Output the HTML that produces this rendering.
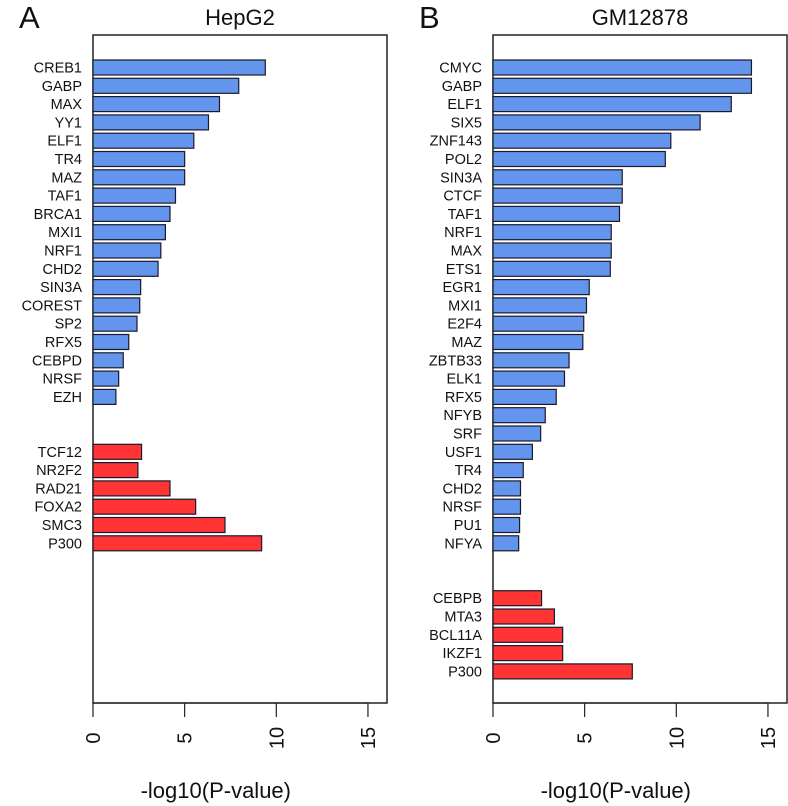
<!DOCTYPE html>
<html><head><meta charset="utf-8"><style>
body{margin:0;background:#fff}
svg{display:block;font-family:"Liberation Sans",Arial,sans-serif}
</style></head><body>
<svg id="chart" width="788" height="806"></svg>
<script>
const hepBlueNames=["CREB1","GABP","MAX","YY1","ELF1","TR4","MAZ","TAF1","BRCA1","MXI1","NRF1","CHD2","SIN3A","COREST","SP2","RFX5","CEBPD","NRSF","EZH"];
const hepBlueVals=[9.4,7.95,6.9,6.3,5.5,5.0,5.0,4.5,4.2,3.95,3.7,3.55,2.6,2.55,2.4,1.95,1.65,1.4,1.25];
const hepRedNames=["TCF12","NR2F2","RAD21","FOXA2","SMC3","P300"];
const hepRedVals=[2.65,2.45,4.2,5.6,7.2,9.2];
const gmBlueNames=["CMYC","GABP","ELF1","SIX5","ZNF143","POL2","SIN3A","CTCF","TAF1","NRF1","MAX","ETS1","EGR1","MXI1","E2F4","MAZ","ZBTB33","ELK1","RFX5","NFYB","SRF","USF1","TR4","CHD2","NRSF","PU1","NFYA"];
const gmBlueVals=[14.1,14.1,13.0,11.3,9.7,9.4,7.05,7.05,6.9,6.45,6.45,6.4,5.25,5.1,4.95,4.9,4.15,3.9,3.45,2.85,2.6,2.15,1.65,1.5,1.5,1.45,1.4];
const gmRedNames=["CEBPB","MTA3","BCL11A","IKZF1","P300"];
const gmRedVals=[2.65,3.35,3.8,3.8,7.6];
const ticks=[0,5,10,15];

const NS="http://www.w3.org/2000/svg";
const svg=document.getElementById('chart');
function mk(tag,attrs,parent){const e=document.createElementNS(NS,tag);for(const k in attrs)e.setAttribute(k,attrs[k]);(parent||svg).appendChild(e);return e;}

function panel(x0,letter,title,blueN,blueV,redN,redV,key){
  const g=mk('g',{});
  
  
  const xs=v=>x0+v*18.33;
  const ys=i=>67.5+i*18.3;
  const top=35,bot=703,right=x0+294;
  const box=mk('rect',{x:x0,y:top,width:right-x0,height:bot-top,fill:'none',stroke:'#222','stroke-width':1.5},g);
  
  
  const L=mk('text',{x:x0-74,y:28,'font-size':31,fill:'#111'},g);L.textContent=letter;
  
  
  const T=mk('text',{x:(x0+right)/2,y:25,'font-size':22,'text-anchor':'middle',fill:'#111'},g);T.textContent=title;
  
  
  function bars(names,vals,offset,color){
    names.forEach((n,j)=>{
      const i=j+offset,cy=ys(i);
      const r=mk('rect',{x:x0,y:cy-7.5,width:xs(vals[j])-x0,height:15,fill:color,stroke:'#1a1a2a','stroke-width':1.2},g);
      
      
      const t=mk('text',{x:x0-11,y:cy+5,'font-size':14.5,'text-anchor':'end',fill:'#111'},g);t.textContent=n;
      
      
    });
  }
  bars(blueN,blueV,0,'#6495ED');
  bars(redN,redV,blueN.length+2,'#FF3434');
  ticks.forEach(v=>{
    const x=xs(v);
    const l=mk('line',{x1:x,x2:x,y1:bot,y2:bot+14,stroke:'#222','stroke-width':1.2},g);
    
    
    const t=mk('text',{x:0,y:0,'font-size':20,'text-anchor':'middle',fill:'#111',transform:`translate(${x+7},738) rotate(-90)`},g);
    t.textContent=v;
    
    
  });
  const ax=mk('line',{x1:xs(0),x2:xs(15),y1:bot,y2:bot,stroke:'#222','stroke-width':1.2},g);
  
  
  const at=mk('text',{x:xs(6.7),y:798,'font-size':22,'text-anchor':'middle',fill:'#111'},g);at.textContent='-log10(P-value)';
  
  
}
panel(93,'A','HepG2',hepBlueNames,hepBlueVals,hepRedNames,hepRedVals,'hepg2');
panel(493,'B','GM12878',gmBlueNames,gmBlueVals,gmRedNames,gmRedVals,'gm12878');
</script>
</body></html>
